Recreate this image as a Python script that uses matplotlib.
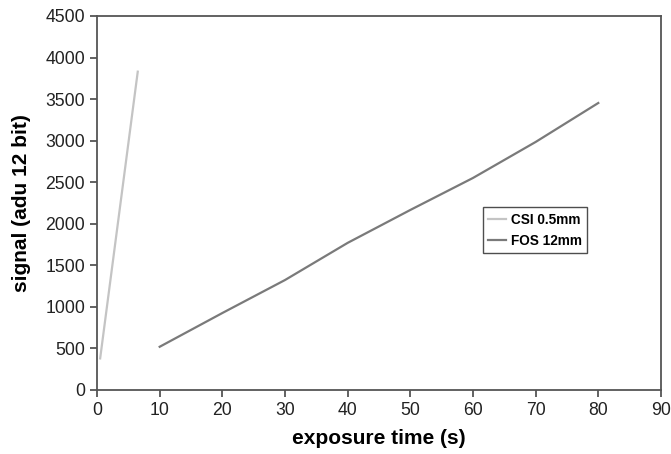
import matplotlib
matplotlib.use('Agg')
import matplotlib.pyplot as plt

plt.rcParams['font.family'] = ['Liberation Sans', 'DejaVu Sans']

# CSI 0.5mm
csi_t = [0.5, 6.5]
csi_sig = [380, 3830]

# FOS 12mm
fos_t = [10, 20, 30, 40, 50, 60, 70, 80]
fos_sig = [520, 926, 1323, 1770, 2166, 2551, 2984, 3453]

fig = plt.figure(figsize=(6.71, 4.54), dpi=100)
ax = fig.add_axes([0.1446, 0.141, 0.8404, 0.8238])

ax.plot(csi_t, csi_sig, color='#c4c4c4', lw=1.6, label='CSI 0.5mm')
ax.plot(fos_t, fos_sig, color='#7a7a7a', lw=1.6, label='FOS 12mm')

ax.set_xlim(0, 90)
ax.set_ylim(0, 4500)
ax.set_xticks(range(0, 91, 10))
ax.set_yticks(range(0, 4501, 500))

for s in ax.spines.values():
    s.set_color('#555555')
    s.set_linewidth(1.3)
ax.tick_params(direction='out', length=5, width=1.3, color='#555555',
               labelsize=12.7, labelcolor='#222222')

ax.set_xlabel('exposure time (s)', fontsize=15, fontweight='bold', labelpad=7)
ax.set_ylabel('signal (adu 12 bit)', fontsize=15, fontweight='bold', labelpad=10)

leg = ax.legend(loc='upper left', bbox_to_anchor=(0.677, 0.5),
                prop={'weight': 'bold', 'size': 9.8}, frameon=True, fancybox=False,
                handlelength=1.3, handletextpad=0.35, borderpad=0.4, labelspacing=0.55,
                borderaxespad=0.3)
leg.get_frame().set_edgecolor('#222222')
leg.get_frame().set_linewidth(1.0)

fig.savefig('out.png', dpi=100)
